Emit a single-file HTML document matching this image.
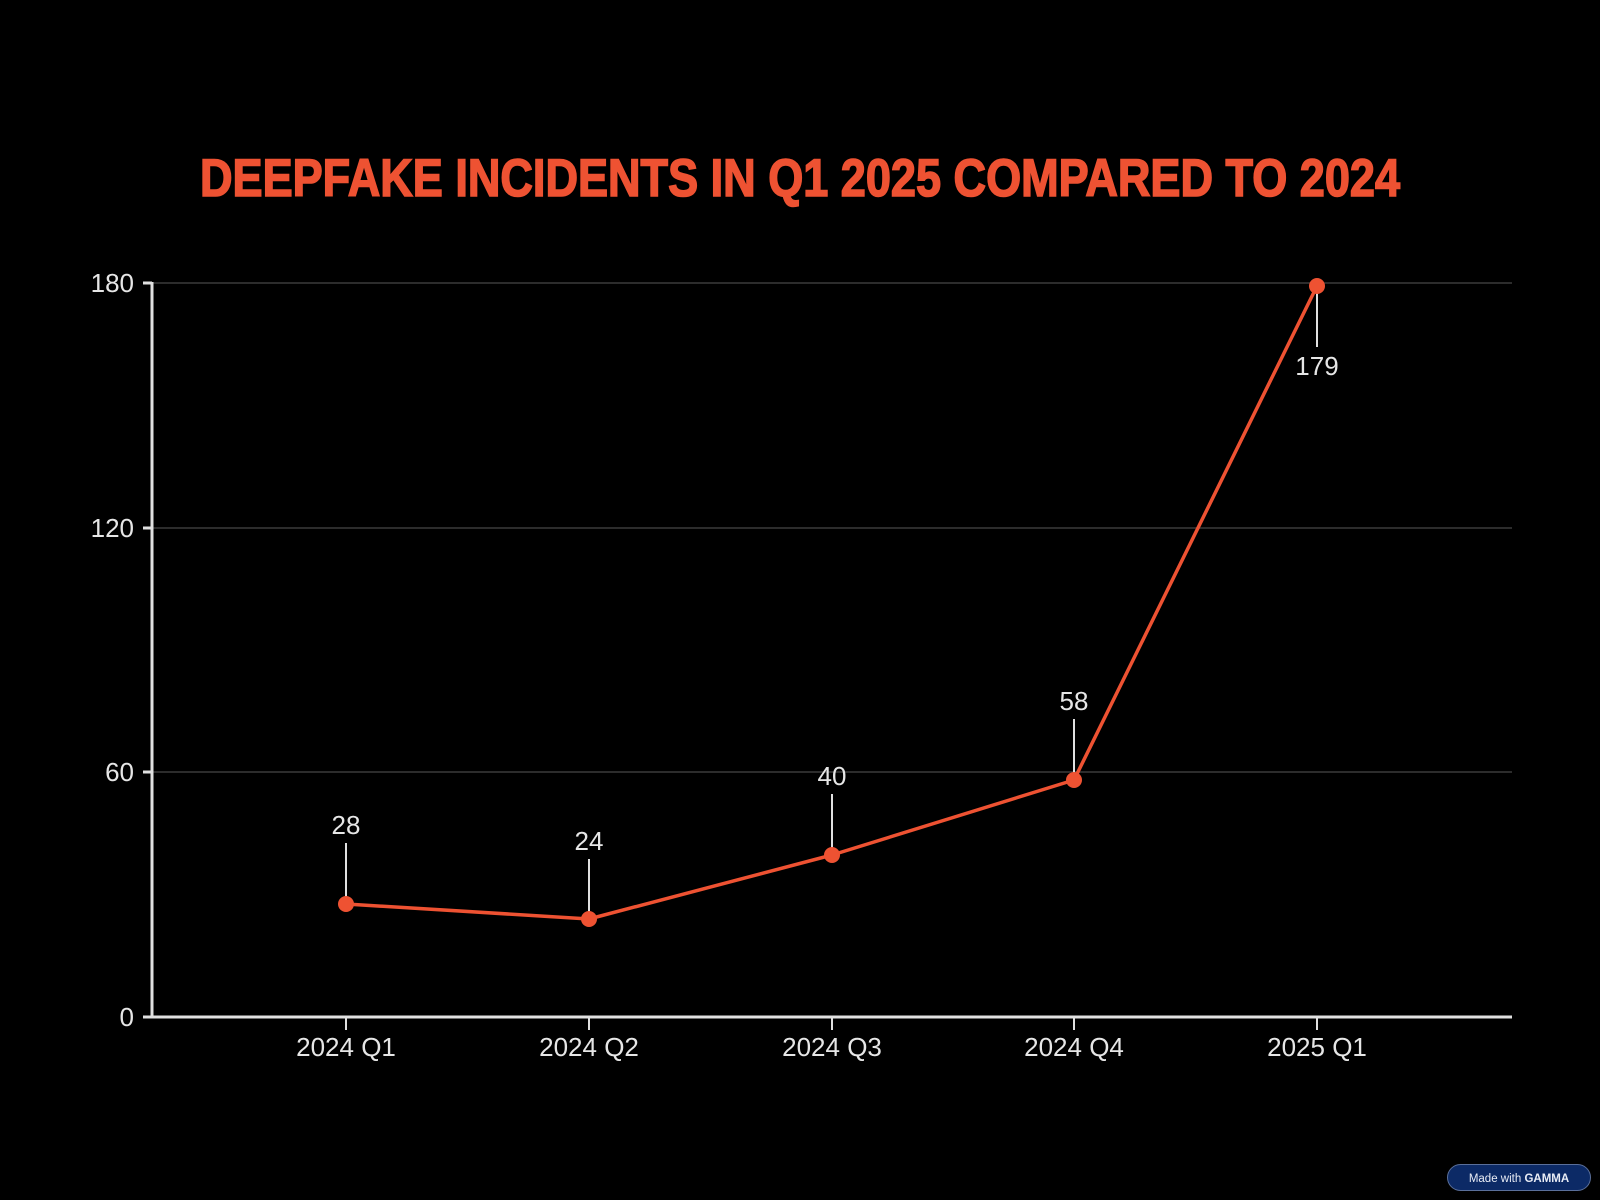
<!DOCTYPE html>
<html><head><meta charset="utf-8"><style>
html,body{margin:0;padding:0;background:#000;}
svg{display:block;}
</style></head><body>
<svg width="1600" height="1200" viewBox="0 0 1600 1200" xmlns="http://www.w3.org/2000/svg">
<rect width="1600" height="1200" fill="#000"/>
<text x="800" y="196" text-anchor="middle" font-family="'Liberation Sans Narrow','Liberation Sans',sans-serif" font-weight="bold" font-size="53" fill="#ee5232" stroke="#ee5232" stroke-width="1.6" textLength="1200" lengthAdjust="spacingAndGlyphs">DEEPFAKE INCIDENTS IN Q1 2025 COMPARED TO 2024</text>
<g stroke="#3a3a3a" stroke-width="1.5">
<line x1="152" y1="283" x2="1512" y2="283"/>
<line x1="152" y1="528" x2="1512" y2="528"/>
<line x1="152" y1="772" x2="1512" y2="772"/>
</g>
<g stroke="#e0e0e0" stroke-width="3">
<line x1="152" y1="282" x2="152" y2="1018"/>
<line x1="152" y1="1017" x2="1512" y2="1017"/>
<line x1="143" y1="283" x2="152" y2="283"/>
<line x1="143" y1="528" x2="152" y2="528"/>
<line x1="143" y1="772" x2="152" y2="772"/>
<line x1="143" y1="1017" x2="152" y2="1017"/>
</g>
<g stroke="#e0e0e0" stroke-width="2">
<line x1="346" y1="1017" x2="346" y2="1030"/>
<line x1="589" y1="1017" x2="589" y2="1030"/>
<line x1="832" y1="1017" x2="832" y2="1030"/>
<line x1="1074" y1="1017" x2="1074" y2="1030"/>
<line x1="1317" y1="1017" x2="1317" y2="1030"/>
</g>
<g font-family="'Liberation Sans',sans-serif" font-size="26" fill="#e6e6e6">
<g text-anchor="end">
<text x="134" y="292">180</text>
<text x="134" y="537">120</text>
<text x="134" y="781">60</text>
<text x="134" y="1026">0</text>
</g>
<g text-anchor="middle">
<text x="346" y="1056">2024 Q1</text>
<text x="589" y="1056">2024 Q2</text>
<text x="832" y="1056">2024 Q3</text>
<text x="1074" y="1056">2024 Q4</text>
<text x="1317" y="1056">2025 Q1</text>
<text x="346" y="834">28</text>
<text x="589" y="850">24</text>
<text x="832" y="785">40</text>
<text x="1074" y="710">58</text>
<text x="1317" y="375">179</text>
</g>
</g>
<g stroke="#e0e0e0" stroke-width="2">
<line x1="346" y1="843" x2="346" y2="904"/>
<line x1="589" y1="859" x2="589" y2="919"/>
<line x1="832" y1="794" x2="832" y2="855"/>
<line x1="1074" y1="719" x2="1074" y2="780"/>
<line x1="1317" y1="287" x2="1317" y2="347"/>
</g>
<polyline points="346,904 589,919 832,855 1074,780 1317,286" fill="none" stroke="#ee5232" stroke-width="3.5" stroke-linejoin="round"/>
<g fill="#ee5232">
<circle cx="346" cy="904" r="8"/>
<circle cx="589" cy="919" r="8"/>
<circle cx="832" cy="855" r="8"/>
<circle cx="1074" cy="780" r="8"/>
<circle cx="1317" cy="286" r="8"/>
</g>
<rect x="1447.5" y="1164.5" width="143" height="26" rx="13" fill="#0c2a66" stroke="#5a6f9a" stroke-width="1"/>
<text x="1519" y="1182" text-anchor="middle" font-family="'Liberation Sans',sans-serif" font-size="11.5" fill="#e8ecf5">Made with <tspan font-weight="bold">GAMMA</tspan></text>
</svg>
</body></html>
